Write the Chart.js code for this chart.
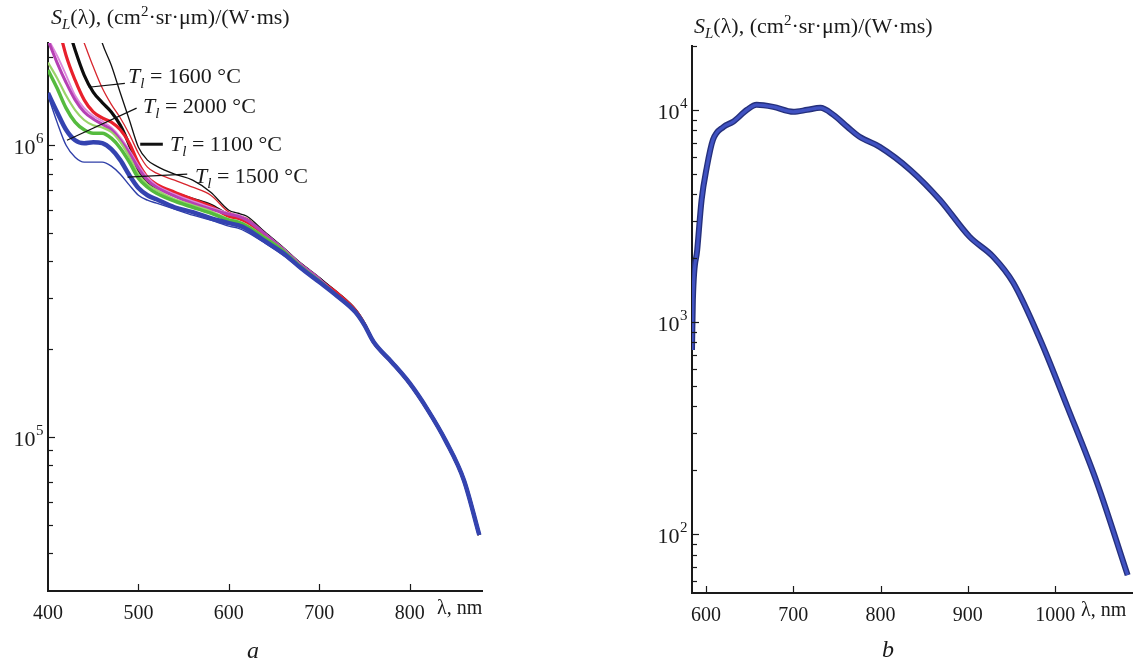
<!DOCTYPE html>
<html>
<head>
<meta charset="utf-8">
<script src="https://cdn.jsdelivr.net/npm/chart.js@4.4.0/dist/chart.umd.min.js"></script>
<style>
  body { margin: 0; background: #fff; width: 1135px; height: 664px; position: relative; overflow: hidden;
         font-family: "Liberation Serif", "Times New Roman", serif; color: #1a1a1a; }
  canvas { position: absolute; top: 0; }
  .t { position: absolute; white-space: nowrap; font-size: 20px; line-height: 20px; }
  .rot { font-size: 22px; line-height: 22px; }
  .sub { font-size: 15px; position: relative; top: 5px; }
  .sup { font-size: 15px; position: relative; top: -8px; }
</style>
</head>
<body>
<canvas id="graficoA" width="500" height="664" style="left:0"></canvas>
<canvas id="graficoB" width="491" height="664" style="left:644px"></canvas>

<div class="t" style="left:51px;top:7px;font-size:22px"><i>S</i><span class="sub"><i>L</i></span>(λ), (cm<span class="sup">2</span>·sr·μm)/(W·ms)</div>
<div class="t" style="left:694px;top:16px;font-size:22px"><i>S</i><span class="sub"><i>L</i></span>(λ), (cm<span class="sup">2</span>·sr·μm)/(W·ms)</div>

<div class="t rot" style="left:128px;top:65px"><i>T</i><span class="sub"><i>l</i></span> = 1600 °C</div>
<div class="t rot" style="left:143px;top:95px"><i>T</i><span class="sub"><i>l</i></span> = 2000 °C</div>
<div class="t rot" style="left:170px;top:133px"><i>T</i><span class="sub"><i>l</i></span> = 1100 °C</div>
<div class="t rot" style="left:195px;top:165px"><i>T</i><span class="sub"><i>l</i></span> = 1500 °C</div>

<div class="t" style="left:437px;top:597px">λ, nm</div>
<div class="t" style="left:1081px;top:599px">λ, nm</div>
<div class="t" style="left:247px;top:640px;font-size:24px"><i>a</i></div>
<div class="t" style="left:882px;top:639px;font-size:24px"><i>b</i></div>

<script>
/* ======= Dados do painel a ======= */
const lambdaA = [400, 410, 420, 430, 440, 450, 460, 470, 480, 490, 500, 510, 520, 540, 560, 580, 600, 610, 620, 640, 660, 680, 700,
                 720, 740, 750, 760, 780, 800, 820, 840, 860, 877];

// trecho final comum (a partir de 720 nm)
const caudaSup = [3.11e5, 2.72e5, 2.44e5, 2.12e5, 1.81e5, 1.53e5, 1.24e5, 9.69e4, 7.12e4, 4.62e4];
const caudaInf = [3.04e5, 2.68e5, 2.42e5, 2.12e5, 1.81e5, 1.53e5, 1.24e5, 9.69e4, 7.12e4, 4.62e4];

const pretoFino = [null, null, null, null, null, 2.90e6, 2.24e6, 1.88e6, 1.51e6, 1.22e6, 9.84e5, 8.89e5, 8.48e5, 7.96e5, 7.59e5, 6.90e5,
                   5.99e5, 5.85e5, 5.71e5, 5.04e5, 4.47e5, 3.94e5, 3.53e5, ...caudaSup];
const vermelhoFino = [null, null, null, 2.68e6, 2.24e6, 1.86e6, 1.57e6, 1.38e6, 1.24e6, 1.09e6, 9.39e5, 8.41e5, 8.02e5, 7.59e5, 7.18e5, 6.74e5,
                      5.90e5, 5.76e5, 5.62e5, 4.99e5, 4.44e5, 3.91e5, 3.50e5, ...caudaSup];
const pretoGrosso = [null, null, 2.68e6, 2.12e6, 1.74e6, 1.52e6, 1.40e6, 1.30e6, 1.17e6, 1.00e6, 8.21e5, 7.47e5, 7.18e5, 6.85e5, 6.53e5, 6.23e5,
                     5.76e5, 5.67e5, 5.54e5, 4.96e5, 4.40e5, 3.88e5, 3.48e5, ...caudaSup];
const vermelhoGrosso = [null, 2.68e6, 2.03e6, 1.67e6, 1.43e6, 1.30e6, 1.24e6, 1.20e6, 1.13e6, 1.016e6, 8.68e5, 7.77e5, 7.35e5, 6.90e5, 6.53e5, 6.18e5,
                        5.71e5, 5.62e5, 5.45e5, 4.92e5, 4.37e5, 3.85e5, 3.45e5, ...caudaSup];
const rosaFino = [2.32e6, 2.03e6, 1.74e6, 1.48e6, 1.34e6, 1.26e6, 1.21e6, 1.15e6, 1.065e6, 9.61e5, 8.54e5, 7.77e5, 7.30e5, 6.80e5, 6.43e5, 6.13e5,
                  5.85e5, 5.76e5, 5.58e5, 4.99e5, 4.44e5, 3.91e5, 3.50e5, ...caudaInf];
const magenta = [2.29e6, 1.92e6, 1.64e6, 1.43e6, 1.30e6, 1.23e6, 1.18e6, 1.13e6, 1.04e6, 9.39e5, 8.34e5, 7.59e5, 7.18e5, 6.69e5, 6.33e5, 6.04e5,
                 5.80e5, 5.71e5, 5.54e5, 4.96e5, 4.40e5, 3.88e5, 3.48e5, ...caudaInf];
const verdeClaro = [1.92e6, 1.70e6, 1.48e6, 1.32e6, 1.22e6, 1.17e6, 1.15e6, 1.11e6, 1.024e6, 9.10e5, 7.96e5, 7.35e5, 7.01e5, 6.53e5, 6.23e5, 5.94e5,
                    5.58e5, 5.49e5, 5.32e5, 4.84e5, 4.37e5, 3.85e5, 3.45e5, ...caudaInf];
const verde = [1.81e6, 1.57e6, 1.34e6, 1.20e6, 1.13e6, 1.10e6, 1.10e6, 1.057e6, 9.77e5, 8.75e5, 7.71e5, 7.18e5, 6.85e5, 6.43e5, 6.13e5, 5.85e5,
               5.54e5, 5.45e5, 5.28e5, 4.80e5, 4.34e5, 3.82e5, 3.42e5, ...caudaInf];
const azulGrosso = [1.51e6, 1.30e6, 1.13e6, 1.04e6, 1.016e6, 1.024e6, 1.016e6, 9.69e5, 8.89e5, 7.89e5, 7.13e5, 6.74e5, 6.53e5, 6.13e5, 5.90e5, 5.62e5,
                    5.41e5, 5.32e5, 5.16e5, 4.69e5, 4.27e5, 3.79e5, 3.40e5, ...caudaInf];
const azulFino = [1.48e6, 1.20e6, 1.00e6, 9.10e5, 8.75e5, 8.75e5, 8.75e5, 8.48e5, 7.96e5, 7.30e5, 6.74e5, 6.48e5, 6.33e5, 6.04e5, 5.76e5, 5.54e5,
                  5.28e5, 5.20e5, 5.04e5, 4.62e5, 4.20e5, 3.76e5, 3.37e5, ...caudaInf];

const xTicksA = [400, 500, 600, 700, 800];
const yMajorA = [1e5, 1e6];
const yExpA = ['5', '6'];

// linhas de chamada dos rótulos T_l (coordenadas em λ e S_L)
const chamadas = [
  { de: [445, 1.58e6], ate: [485, 1.63e6], largura: 1.2 },  // 1600 °C
  { de: [421, 1.04e6], ate: [498, 1.34e6], largura: 1.2 },  // 2000 °C
  { de: [502, 1.008e6], ate: [527, 1.008e6], largura: 3 },  // 1100 °C
  { de: [488, 7.77e5], ate: [554, 7.96e5], largura: 1.2 }   // 1500 °C
];

/* ======= Dados do painel b ======= */
const lambdaB = [584, 585, 590, 595, 601, 608, 620, 631, 647, 658, 677, 700, 716, 731, 746, 762, 776, 799, 834, 868, 902, 929, 952, 983, 1014, 1048, 1083];
const sinalB = [738, 1270, 2190, 3760, 5380, 7220, 8310, 8780, 10000, 10560, 10330, 9790, 10000, 10220, 9470, 8310, 7460, 6690, 5210, 3760, 2520, 2030, 1530, 822, 397, 174, 64];

const xTicksB = [600, 700, 800, 900, 1000];
const yMajorB = [1e2, 1e3, 1e4];
const yExpB = ['2', '3', '4'];

/* ======= Auxiliares ======= */
function pontos(xs, ys) {
  const out = [];
  xs.forEach((x, i) => { if (ys[i] != null) out.push({ x, y: ys[i] }); });
  return out;
}

function marcasLog(min, max) {
  const lista = [];
  for (let e = Math.floor(Math.log10(min)); e <= Math.ceil(Math.log10(max)); e++) {
    for (let m = 1; m <= 9; m++) {
      const v = m * Math.pow(10, e);
      if (v >= min * 0.999 && v <= max * 1.001) lista.push(v);
    }
  }
  return lista;
}

const FONTE = '"Liberation Serif", "Times New Roman", serif';

// marcas internas, rótulos 10^n e linhas de chamada
const eixos = {
  id: 'eixos',
  afterDatasetsDraw(chart, args, o) {
    const { ctx, chartArea: a, scales: { x, y } } = chart;
    ctx.save();
    ctx.strokeStyle = '#1a1a1a';
    ctx.lineWidth = 1.2;
    o.yTicks.forEach(v => {
      const py = Math.round(y.getPixelForValue(v)) + 0.5;
      if (py < a.top - 1 || py > a.bottom - 3) return;
      const len = o.yMajor.includes(v) ? 7 : 5;
      ctx.beginPath(); ctx.moveTo(a.left, py); ctx.lineTo(a.left + len, py); ctx.stroke();
    });
    o.xTicks.forEach(v => {
      const px = Math.round(x.getPixelForValue(v)) + 0.5;
      if (px < a.left + 3) return;
      ctx.beginPath(); ctx.moveTo(px, a.bottom); ctx.lineTo(px, a.bottom - 7); ctx.stroke();
    });

    ctx.fillStyle = '#1a1a1a';
    ctx.textAlign = 'left';
    ctx.textBaseline = 'alphabetic';
    o.yMajor.forEach((v, i) => {
      const py = y.getPixelForValue(v);
      ctx.font = '15px ' + FONTE;
      const we = ctx.measureText(o.yExp[i]).width;
      ctx.font = '22px ' + FONTE;
      const wb = ctx.measureText('10').width;
      const x0 = a.left - 5 - we - wb;
      ctx.fillText('10', x0, py + 9);
      ctx.font = '15px ' + FONTE;
      ctx.fillText(o.yExp[i], x0 + wb + 0.5, py - 2);
    });

    (o.chamadas || []).forEach(c => {
      ctx.lineWidth = c.largura;
      ctx.strokeStyle = '#111';
      ctx.beginPath();
      ctx.moveTo(x.getPixelForValue(c.de[0]), y.getPixelForValue(c.de[1]));
      ctx.lineTo(x.getPixelForValue(c.ate[0]), y.getPixelForValue(c.ate[1]));
      ctx.stroke();
    });
    ctx.restore();
  }
};

function serie(dados, xs, cor, largura) {
  return {
    data: pontos(xs, dados),
    borderColor: cor,
    borderWidth: largura,
    pointRadius: 0,
    cubicInterpolationMode: 'monotone',
    fill: false,
    clip: 0
  };
}

function opcoes(cfg) {
  return {
    responsive: false,
    animation: false,
    events: [],
    layout: { padding: cfg.padding },
    plugins: {
      legend: { display: false },
      tooltip: { enabled: false },
      eixos: cfg.eixos
    },
    scales: {
      x: {
        type: 'linear',
        min: cfg.xMin, max: cfg.xMax,
        afterBuildTicks: s => { s.ticks = cfg.xTicks.map(v => ({ value: v })); },
        afterFit: s => { s.height = cfg.altX; },
        grid: { display: false },
        border: { display: true, color: '#1a1a1a', width: 2 },
        ticks: {
          autoSkip: false, maxRotation: 0, padding: 3,
          color: '#1a1a1a',
          font: { family: FONTE, size: 20 },
          callback: v => String(v)
        }
      },
      y: {
        type: 'logarithmic',
        min: cfg.yMin, max: cfg.yMax,
        afterBuildTicks: s => { s.ticks = cfg.eixos.yTicks.map(v => ({ value: v })); },
        afterFit: s => { s.width = cfg.largY; },
        grid: { display: false },
        border: { display: true, color: '#1a1a1a', width: 2 },
        ticks: { display: false }
      }
    }
  };
}

/* ======= Gráfico a ======= */
const yMinA = 2.97e4, yMaxA = 2.24e6;
new Chart(document.getElementById('graficoA'), {
  type: 'line',
  data: {
    datasets: [
      serie(azulGrosso, lambdaA, '#3443b0', 4.5),
      serie(azulFino, lambdaA, '#2f3fa8', 1.4),
      serie(verde, lambdaA, '#55bb3e', 3.5),
      serie(verdeClaro, lambdaA, '#9ad36a', 2.2),
      serie(magenta, lambdaA, '#b640b4', 3),
      serie(rosaFino, lambdaA, '#dd86dc', 1.8),
      serie(vermelhoGrosso, lambdaA, '#e8202c', 3.2),
      serie(pretoGrosso, lambdaA, '#0d0d0d', 3.2),
      serie(vermelhoFino, lambdaA, '#d8262e', 1.3),
      serie(pretoFino, lambdaA, '#111111', 1.3)
    ]
  },
  options: opcoes({
    padding: { top: 43, right: 18, left: 0, bottom: 0 },
    xMin: 400, xMax: 880, xTicks: xTicksA, altX: 73,
    yMin: yMinA, yMax: yMaxA, largY: 48,
    eixos: { yTicks: marcasLog(yMinA, yMaxA), yMajor: yMajorA, yExp: yExpA, xTicks: xTicksA, chamadas }
  }),
  plugins: [eixos]
});

/* ======= Gráfico b ======= */
const yMinB = 52.7, yMaxB = 2.0e4;
new Chart(document.getElementById('graficoB'), {
  type: 'line',
  data: {
    datasets: [
      serie(sinalB, lambdaB, '#4052c2', 3.2),
      serie(sinalB, lambdaB, '#25307c', 6)
    ]
  },
  options: opcoes({
    padding: { top: 46, right: 3, left: 0, bottom: 0 },
    xMin: 584, xMax: 1088, xTicks: xTicksB, altX: 71,
    yMin: yMinB, yMax: yMaxB, largY: 48,
    eixos: { yTicks: marcasLog(yMinB, yMaxB), yMajor: yMajorB, yExp: yExpB, xTicks: xTicksB }
  }),
  plugins: [eixos]
});
</script>
</body>
</html>
